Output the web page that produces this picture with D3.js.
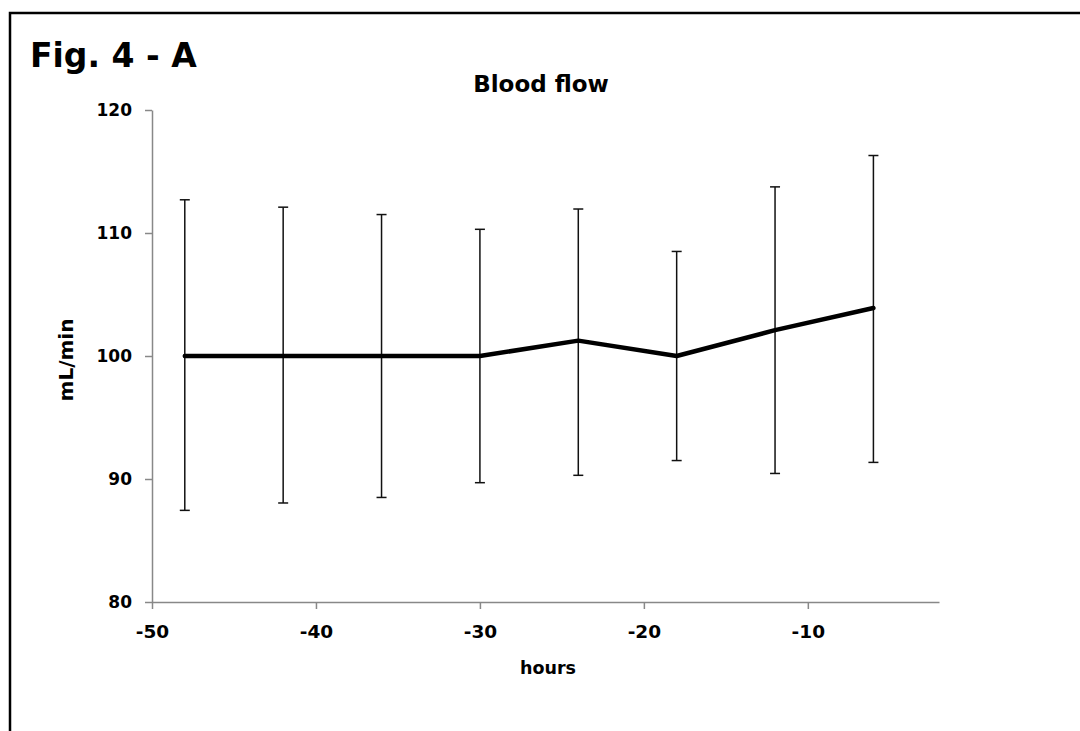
<!DOCTYPE html>
<html><head><meta charset="utf-8">
<script src="https://cdn.jsdelivr.net/npm/d3@7"></script>
<style>body{margin:0;background:#fff;} svg{display:block;}</style>
</head><body>
<svg id="c" width="1080" height="731"></svg>
<script>
const hours = [-48, -42, -36, -30, -24, -18, -12, -6];
const flow = [100, 100, 100, 100, 101.25, 100, 102.1, 103.9];
const upper = [112.7, 112.1, 111.5, 110.3, 111.95, 108.5, 113.75, 116.3];
const lower = [87.45, 88.05, 88.5, 89.7, 90.3, 91.5, 90.45, 91.35];
const xTicks = [-50, -40, -30, -20, -10];
const yTicks = [80, 90, 100, 110, 120];

const svg = d3.select("#c");
const font = "'DejaVu Sans', sans-serif";

// frame
svg.append("path").attr("d","M10,740 L10,13 L1090,13").attr("fill","none").attr("stroke","#000").attr("stroke-width",2.5);

svg.append("text").attr("x",30).attr("y",67).attr("font-family",font)
  .attr("font-weight","bold").attr("font-size",33).text("Fig. 4 - A");

const x = d3.scaleLinear().domain([-50, -2]).range([152, 939]);
const y = d3.scaleLinear().domain([80, 120]).range([602, 110]);

svg.append("text").attr("x",541).attr("y",92).attr("text-anchor","middle")
  .attr("font-family",font).attr("font-weight","bold").attr("font-size",23).text("Blood flow");

const gx = svg.append("g").attr("transform","translate(0,602)")
  .call(d3.axisBottom(x).tickValues(xTicks).tickFormat(d => String(d)).tickSize(7).tickSizeOuter(0).tickPadding(16));
const gy = svg.append("g").attr("transform","translate(152,0)")
  .call(d3.axisLeft(y).tickValues(yTicks).tickFormat(d => String(d)).tickSize(7).tickSizeOuter(0).tickPadding(13));
[gx, gy].forEach(g => {
  g.selectAll("path,line").attr("stroke","#888").attr("stroke-width",1.5);
  g.selectAll("text").attr("font-family",font).attr("font-weight","bold").attr("fill","#000");
});
gy.selectAll("text").attr("font-size",17);
gx.selectAll("text").attr("font-size",18.5);

svg.append("text").attr("x",548).attr("y",674).attr("text-anchor","middle")
  .attr("font-family",font).attr("font-weight","bold").attr("font-size",17.5).text("hours");
svg.append("text").attr("transform","translate(73,360) rotate(-90)").attr("text-anchor","middle")
  .attr("font-family",font).attr("font-weight","bold").attr("font-size",20).text("mL/min");

const data = hours.map((h,i)=>({h, v:flow[i], hi:upper[i], lo:lower[i]}));
const eb = svg.append("g").attr("stroke","#111").attr("stroke-width",1.5);
eb.selectAll("line.v").data(data).join("line").attr("class","v")
  .attr("x1",d=>x(d.h)).attr("x2",d=>x(d.h)).attr("y1",d=>y(d.hi)).attr("y2",d=>y(d.lo));
eb.selectAll("line.t").data(data).join("line").attr("class","t")
  .attr("x1",d=>x(d.h)-5).attr("x2",d=>x(d.h)+5).attr("y1",d=>y(d.hi)).attr("y2",d=>y(d.hi));
eb.selectAll("line.b").data(data).join("line").attr("class","b")
  .attr("x1",d=>x(d.h)-5).attr("x2",d=>x(d.h)+5).attr("y1",d=>y(d.lo)).attr("y2",d=>y(d.lo));

svg.append("path").datum(data).attr("fill","none").attr("stroke","#000").attr("stroke-width",4.5)
  .attr("stroke-linejoin","round").attr("stroke-linecap","round")
  .attr("d", d3.line().x(d=>x(d.h)).y(d=>y(d.v)));
</script>
</body></html>
